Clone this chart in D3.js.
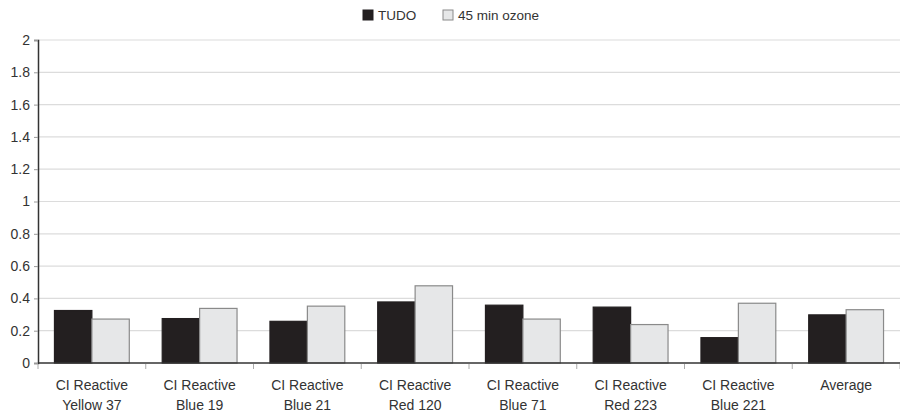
<!DOCTYPE html>
<html><head><meta charset="utf-8">
<script src="https://cdn.jsdelivr.net/npm/d3@7"></script>
<style>body{margin:0;background:#fff}svg{display:block;font-family:"Liberation Sans",Arial,sans-serif}</style>
</head><body><svg id="c" width="900" height="412"></svg>
<script>
const categories = [["CI Reactive","Yellow 37"],["CI Reactive","Blue 19"],["CI Reactive","Blue 21"],["CI Reactive","Red 120"],["CI Reactive","Blue 71"],["CI Reactive","Red 223"],["CI Reactive","Blue 221"],["Average"]];
const seriesNames = ["TUDO","45 min ozone"];
const tudo = [0.325,0.275,0.258,0.378,0.358,0.346,0.157,0.298];
const ozone = [0.272,0.338,0.352,0.478,0.272,0.238,0.37,0.33];
const yTicks = [0,0.2,0.4,0.6,0.8,1,1.2,1.4,1.6,1.8,2];
const colors = ["#231f20","#e6e7e8"];

const svg = d3.select("#c");
const m = {l:38, r:0, t:40, b:49};
const W = 900, H = 412;
const x = d3.scaleBand().domain(d3.range(categories.length)).range([m.l, W-m.r]).paddingInner(0).paddingOuter(0);
const x1 = d3.scaleBand().domain([0,1]).range([0, x.bandwidth()]).paddingInner(0).paddingOuter(0.44);
const y = d3.scaleLinear().domain([0,2]).range([H-m.b, m.t]);

// grid
svg.append("g").selectAll("line").data(yTicks.filter(d=>d>0)).join("line")
  .attr("x1", m.l).attr("x2", W-m.r).attr("y1", d=>y(d)).attr("y2", d=>y(d))
  .attr("stroke","#dcdcdc").attr("stroke-width",1.2);

// y axis
const ya = svg.append("g").attr("transform",`translate(${m.l},0)`)
  .call(d3.axisLeft(y).tickValues(yTicks).tickFormat(d=>d3.format("")(d)).tickSize(4).tickPadding(4));
ya.select(".domain").attr("stroke","#333").attr("stroke-width",1.5);
ya.selectAll(".tick line").attr("stroke","#999");
ya.selectAll("text").attr("font-size",14).attr("fill","#333").attr("font-family","Liberation Sans, Arial, sans-serif");

// bars
const groups = svg.append("g").selectAll("g").data(categories).join("g")
  .attr("transform",(d,i)=>`translate(${x(i)},0)`);
[tudo, ozone].forEach((vals, s) => {
  groups.append("rect")
    .attr("x", x1(s)).attr("width", x1.bandwidth())
    .attr("y", (d,i)=>y(vals[i])).attr("height",(d,i)=>y(0)-y(vals[i]))
    .attr("fill", colors[s])
    .attr("stroke", s===0 ? "#231f20" : "#8a8a8a").attr("stroke-width", 1.2);
});

// x axis
const xa = svg.append("g").attr("transform",`translate(0,${y(0)})`);
xa.append("line").attr("x1",m.l).attr("x2",W-m.r).attr("stroke","#333").attr("stroke-width",1.5);
xa.selectAll("line.t").data(d3.range(categories.length+1)).join("line").attr("class","t")
  .attr("x1",i=>m.l+i*x.bandwidth()).attr("x2",i=>m.l+i*x.bandwidth())
  .attr("y1",1).attr("y2",6).attr("stroke","#aaa");
const lab = xa.selectAll("text").data(categories).join("text")
  .attr("text-anchor","middle").attr("font-size",14).attr("fill","#333")
  .attr("transform",(d,i)=>`translate(${x(i)+x.bandwidth()/2},0)`);
lab.selectAll("tspan").data(d=>d).join("tspan").attr("x",0).attr("y",(d,j)=>27+j*20).text(d=>d);

// legend
const lg = svg.append("g");
const lx = [363, 443];
seriesNames.forEach((n,s)=>{
  lg.append("rect").attr("x",lx[s]).attr("y",10).attr("width",10).attr("height",10)
    .attr("fill",colors[s]).attr("stroke", s===0?"#231f20":"#8a8a8a");
  lg.append("text").attr("x",lx[s]+15).attr("y",20).attr("font-size",13.5).attr("fill","#333").text(n);
});
</script></body></html>
